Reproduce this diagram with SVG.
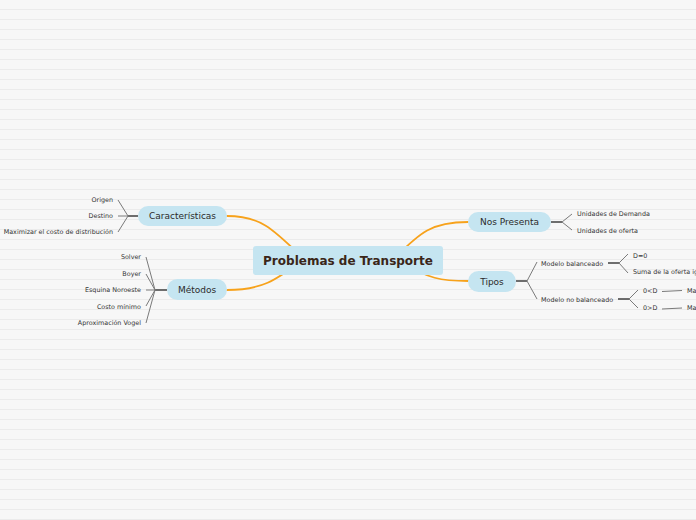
<svg xmlns="http://www.w3.org/2000/svg" width="696" height="520" viewBox="0 0 696 520">
<defs>
<pattern id="lines" x="0" y="0" width="696" height="10" patternUnits="userSpaceOnUse">
<rect x="0" y="0" width="696" height="10" fill="#f7f7f7"/>
<rect x="0" y="9" width="696" height="1" fill="#ebebeb"/>
</pattern>
</defs>
<style>
.main{fill:none;stroke:#f7a21b;stroke-width:1.8;stroke-linecap:round}
.jn{fill:none;stroke:#333333;stroke-width:1.4}
.fan{fill:none;stroke:#7a7a7a;stroke-width:1}
.node{fill:#c5e5f1}
.nt{font-family:"DejaVu Sans",Verdana,sans-serif;font-size:9px;fill:#2b2b2b;text-anchor:middle}
.ct{font-family:"DejaVu Sans",Verdana,sans-serif;font-size:12px;font-weight:bold;fill:#3a2618;text-anchor:middle}
.lf{font-family:"DejaVu Sans",Verdana,sans-serif;font-size:6.4px;fill:#333333}
.r{text-anchor:end}
</style>
<rect x="0" y="0" width="696" height="520" fill="url(#lines)"/>
<g id="connectors">
<path class="main" d="M227,216 C262,216 274,230 305,260"/>
<path class="main" d="M227,290 C262,290 276,280 300,262"/>
<path class="main" d="M468,222 C432,222 420,232 393,260"/>
<path class="main" d="M468,281 C440,281 428,278 405,264"/>
<path class="jn" d="M138,216 H128"/>
<path class="fan" d="M128,216 L118,200 M128,216 L118,216 M128,216 L118,232"/>
<path class="jn" d="M167,290 H155"/>
<path class="fan" d="M155,290 L146,257 M155,290 L146,274 M155,290 L146,290 M155,290 L146,306 M155,290 L146,323"/>
<path class="jn" d="M551,222 H562"/>
<path class="fan" d="M562,222 L572,214 M562,222 L572,230"/>
<path class="jn" d="M516,281 H527"/>
<path class="fan" d="M527,281 L537,262 M527,281 L537,299"/>
<path class="jn" d="M608,263 H619"/>
<path class="fan" d="M619,263 L628,254 M619,263 L628,273"/>
<path class="jn" d="M618,299 H629"/>
<path class="fan" d="M629,299 L638,290 M629,299 L638,308"/>
<path class="fan" d="M662,291.5 L682,290.5 M662,309 L682,308"/>
</g>
<g id="center">
<rect class="node" x="253" y="246" width="190" height="29" rx="3"/>
<text class="ct" x="348" y="265">Problemas de Transporte</text>
</g>
<g id="caracteristicas">
<rect class="node" x="138" y="206" width="89" height="20" rx="10"/>
<text class="nt" x="182.5" y="219.3">Características</text>
</g>
<g id="metodos">
<rect class="node" x="167" y="279" width="60" height="21" rx="10.5"/>
<text class="nt" x="197" y="292.8">Métodos</text>
</g>
<g id="nos-presenta">
<rect class="node" x="468" y="212" width="83" height="20" rx="10"/>
<text class="nt" x="509.5" y="225.3">Nos Presenta</text>
</g>
<g id="tipos">
<rect class="node" x="468" y="271" width="48" height="21" rx="10.5"/>
<text class="nt" x="492" y="284.8">Tipos</text>
</g>
<g id="leaves-caracteristicas">
<text class="lf r" x="113" y="202.3">Origen</text>
<text class="lf r" x="113" y="218.3">Destino</text>
<text class="lf r" x="113" y="234.3">Maximizar el costo de distribución</text>
</g>
<g id="leaves-metodos">
<text class="lf r" x="141" y="259">Solver</text>
<text class="lf r" x="141" y="275.6">Boyer</text>
<text class="lf r" x="141" y="292.3">Esquina Noroeste</text>
<text class="lf r" x="141" y="309">Costo mínimo</text>
<text class="lf r" x="141" y="325">Aproximación Vogel</text>
</g>
<g id="leaves-nos-presenta">
<text class="lf" x="577" y="215.6">Unidades de Demanda</text>
<text class="lf" x="577" y="233">Unidades de oferta</text>
</g>
<g id="leaves-tipos">
<text class="lf" x="541" y="265.6">Modelo balanceado</text>
<text class="lf" x="541" y="301.6">Modelo no balanceado</text>
</g>
<g id="leaves-balanceado">
<text class="lf" x="633" y="257.6">D=0</text>
<text class="lf" x="633" y="273.8">Suma de la oferta igual a la demanda</text>
</g>
<g id="leaves-no-balanceado">
<text class="lf" x="643" y="293.3">0&lt;D</text>
<text class="lf" x="643" y="310">0&gt;D</text>
<text class="lf" x="687" y="293.3">Ma</text>
<text class="lf" x="687" y="310">Ma</text>
</g>
</svg>
